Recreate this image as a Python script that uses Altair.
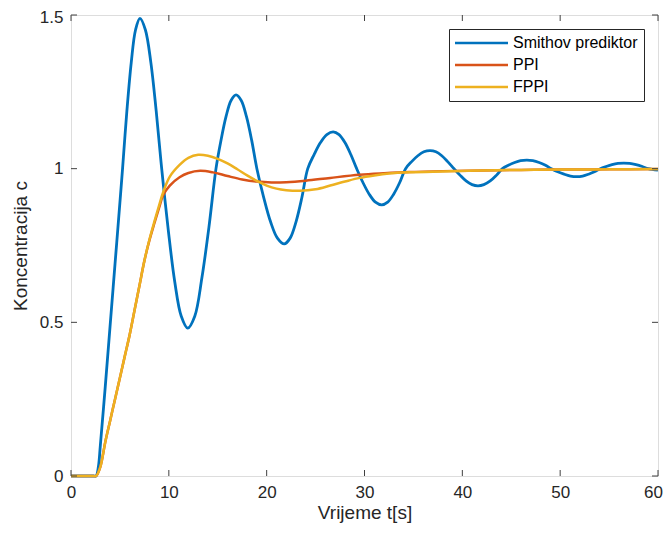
import altair as alt
import pandas as pd

# ---- data ----
series_names = ["Smithov prediktor", "PPI", "FPPI"]
series_colors = ["#0072BD", "#D95319", "#EDB120"]

t_smith = [0, 2.3, 2.56, 2.8, 3.0, 3.5, 4.0, 4.5, 5.0, 5.27, 5.71, 6.16, 6.6, 7.05,
           7.6, 8.16, 8.71, 9.27, 9.94, 10.6, 11.27, 11.93, 12.65, 13.38, 14.1, 14.82,
           15.33, 15.85, 16.36, 16.87, 17.4, 17.93, 18.47, 19.0,
           19.7, 20.4, 21.1, 21.8, 22.4, 23.0, 23.6, 24.2,
           24.85, 25.5, 26.15, 26.8, 27.4, 28.0, 28.6, 29.2,
           29.84, 30.48, 31.12, 31.76, 32.37, 32.98, 33.6, 34.2,
           34.82, 35.45, 36.07, 36.7, 37.3, 37.9, 38.5, 39.15,
           39.76, 40.38, 40.99, 41.6, 42.2, 42.85, 43.5, 44.1,
           44.7, 45.35, 45.95, 46.6, 47.2, 47.85, 48.5, 49.1,
           49.75, 50.4, 51.05, 51.7, 52.3, 52.9, 53.5, 54.1,
           54.7, 55.3, 55.9, 56.5, 57.1, 57.75, 58.4, 59.0, 60.0]
c_smith = [0, 0, 0, 0.03, 0.10, 0.29, 0.49, 0.69, 0.89, 1.0, 1.187, 1.346, 1.452, 1.489,
           1.452, 1.346, 1.187, 1.0, 0.801, 0.633, 0.52, 0.481, 0.52, 0.645, 0.81, 1.0,
           1.092, 1.17, 1.222, 1.24, 1.222, 1.17, 1.092, 1.0,
           0.906, 0.827, 0.774, 0.755, 0.774, 0.827, 0.906, 1.0,
           1.046, 1.085, 1.111, 1.12, 1.111, 1.085, 1.046, 1.0,
           0.955, 0.917, 0.891, 0.882, 0.891, 0.917, 0.955, 1.0,
           1.023, 1.042, 1.055, 1.059, 1.055, 1.042, 1.023, 1.0,
           0.979, 0.96, 0.948, 0.944, 0.948, 0.96, 0.979, 1.0,
           1.011, 1.02, 1.026, 1.028, 1.026, 1.02, 1.011, 1.0,
           0.99, 0.982, 0.976, 0.974, 0.976, 0.982, 0.99, 1.0,
           1.007, 1.013, 1.017, 1.018, 1.017, 1.013, 1.007, 1.0, 0.995]

t_ppi = [0, 2.3, 2.56, 3.0, 3.5, 4.0, 4.5, 5.0, 5.5, 6.0, 6.5, 7.0, 7.5, 8.0, 8.5, 9.0, 9.44,
         10.1, 11.1, 12.0, 13.2, 14.5, 16.0, 17.5, 19.0, 20.5, 22.0, 24.0, 26.5, 29.5, 32.0,
         34.6, 38.0, 42.0, 46.0, 50.0, 55.0, 60.0]
c_ppi = [0, 0, 0, 0.03, 0.11, 0.18, 0.25, 0.32, 0.39, 0.46, 0.54, 0.62, 0.70, 0.765, 0.82, 0.872, 0.915,
         0.945, 0.972, 0.986, 0.993, 0.988, 0.976, 0.965, 0.958, 0.955, 0.956, 0.961, 0.970, 0.980, 0.985,
         0.989, 0.992, 0.994, 0.996, 0.997, 0.998, 0.999]

t_fppi = [0, 2.3, 2.56, 3.0, 3.5, 4.0, 4.5, 5.0, 5.5, 6.0, 6.5, 7.0, 7.5, 8.0, 8.5, 9.0, 9.44,
          10.1, 11.1, 12.0, 13.0, 14.0, 15.0, 16.0, 17.0, 18.0, 19.0, 20.0, 21.0, 22.0, 23.4,
          25.0, 26.5, 28.0, 29.5, 31.0, 32.5, 34.6, 38.0, 42.0, 46.0, 50.0, 55.0, 60.0]
c_fppi = [0, 0, 0, 0.03, 0.11, 0.18, 0.25, 0.32, 0.39, 0.46, 0.54, 0.62, 0.70, 0.767, 0.825, 0.88, 0.925,
          0.974, 1.012, 1.035, 1.045, 1.042, 1.032, 1.017, 0.998, 0.978, 0.96, 0.945, 0.935, 0.93, 0.928,
          0.933, 0.945, 0.958, 0.970, 0.978, 0.984, 0.988, 0.991, 0.994, 0.996, 0.997, 0.998, 0.999]

x_ticks = [0, 10, 20, 30, 40, 50, 60]
y_ticks = [0, 0.5, 1, 1.5]

# ---- build tables ----
rows = []
for name, ts, cs in zip(series_names, [t_smith, t_ppi, t_fppi], [c_smith, c_ppi, c_fppi]):
    for t, c in zip(ts, cs):
        rows.append({"t": t, "c": c, "series": name})
df = pd.DataFrame(rows)
xt = pd.DataFrame({"v": x_ticks})
yt = pd.DataFrame({"v": y_ticks})

W, H = 587, 461
AX = "#262626"
FONT = "Liberation Sans"

xscale = alt.Scale(domain=[0, 60], nice=False, zero=False)
yscale = alt.Scale(domain=[0, 1.5], nice=False)

xa = alt.Axis(values=x_ticks, title="Vrijeme t[s]", grid=False, ticks=False, domain=False,
              labelFlush=False, labelFontSize=17, labelFont=FONT, labelColor=AX, labelPadding=8,
              labelOffset=alt.condition("datum.value == 60", alt.value(-5), alt.value(0)),
              titleFontSize=19, titleFont=FONT, titleFontWeight="normal", titleColor=AX,
              titlePadding=3)
ya = alt.Axis(values=y_ticks, format="~g", title="Koncentracija c", grid=False, ticks=False,
              domain=False, labelFlush=False, labelFontSize=17, labelFont=FONT, labelColor=AX,
              labelPadding=8,
              labelOffset=alt.condition("datum.value == 1.5", alt.value(2), alt.value(0)),
              titleFontSize=19, titleFont=FONT, titleFontWeight="normal",
              titleColor=AX, titlePadding=9)

color = alt.Color(
    "series:N",
    scale=alt.Scale(domain=series_names, range=series_colors),
    legend=alt.Legend(
        title=None, orient="none", legendX=378, legendY=14,
        symbolType="M-1.6,0H9", symbolSize=100, symbolStrokeWidth=2.5,
        labelFontSize=16, labelFont=FONT, labelColor="#000000",
        strokeColor=AX, fillColor="#ffffff", padding=6, rowPadding=6,
        labelOffset=42, labelLimit=300,
    ),
)

def line_layer(name, width):
    return alt.Chart(df).transform_filter(alt.datum.series == name).mark_line(
        strokeWidth=width, interpolate="catmull-rom"
    ).encode(
        x=alt.X("t:Q", scale=xscale, axis=xa),
        y=alt.Y("c:Q", scale=yscale, axis=ya),
        color=color,
    )

tick_style = dict(color="#404040", strokeWidth=1)
xb = alt.Chart(xt).mark_rule(**tick_style).encode(
    x=alt.X("v:Q", scale=xscale, axis=xa), y=alt.value(H), y2=alt.value(H - 6))
xtop = alt.Chart(xt).mark_rule(**tick_style).encode(
    x=alt.X("v:Q", scale=xscale, axis=xa), y=alt.value(0), y2=alt.value(6))
yl = alt.Chart(yt).mark_rule(**tick_style).encode(
    y=alt.Y("v:Q", scale=yscale, axis=ya), x=alt.value(0), x2=alt.value(6))
yr = alt.Chart(yt).mark_rule(**tick_style).encode(
    y=alt.Y("v:Q", scale=yscale, axis=ya), x=alt.value(W), x2=alt.value(W - 6))

chart = alt.layer(
    line_layer("Smithov prediktor", 2.8),
    line_layer("PPI", 2.5),
    line_layer("FPPI", 2.5),
    xb, xtop, yl, yr,
).properties(
    width=W, height=H,
    autosize=alt.AutoSizeParams(type="none"),
    padding={"left": 63, "top": 7, "right": 5, "bottom": 52},
).configure_view(stroke="#404040", strokeWidth=1).configure(background="#ffffff")

chart.save("out.html", embed_options={"renderer": "svg", "actions": False})
